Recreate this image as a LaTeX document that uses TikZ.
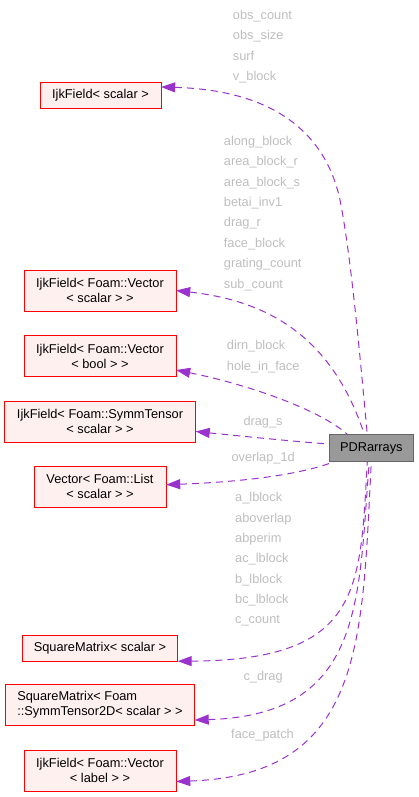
\documentclass[tikz,border=0pt]{standalone}
\usepackage{fontspec}
\setmainfont{Liberation Sans}
\usetikzlibrary{arrows.meta}
\definecolor{edgecol}{HTML}{9A32CD}
\definecolor{clsfill}{HTML}{FFF0F0}
\definecolor{lblgray}{HTML}{BEBEBE}
\tikzset{cls/.style={draw=red, fill=clsfill, minimum height=26pt, inner sep=2pt,
   font=\fontsize{12.8}{15}\selectfont, align=center},
 tall/.style={minimum height=41pt},
 main/.style={draw=black!60, fill=black!40, minimum width=84pt, minimum height=27pt,
   font=\fontsize{12.8}{15}\selectfont},
 dep/.style={draw=edgecol, line width=1pt, dash pattern=on 7pt off 5pt,
   {Triangle[length=14pt,width=10pt]}-},
 lbl/.style={text=lblgray, anchor=west, inner sep=0pt, text height=9pt, text depth=3pt,
   font=\fontsize{12.8}{15}\selectfont},
 }

\begin{document}
\begin{tikzpicture}[x=1pt,y=-1pt]
    \useasboundingbox (0,0) rectangle (418,797);
    % classes
    \node[cls, minimum width=121pt] (sfScalar) at (100.5,95) {IjkField< scalar >};
    \node[cls, tall, minimum width=152pt] (vecScalar) at (100,290.5) {IjkField< Foam::Vector\\< scalar > >};
    \node[cls, tall, minimum width=152pt] (vecBool) at (100,356) {IjkField< Foam::Vector\\< bool > >};
    \node[cls, tall, minimum width=191pt] (symmScalar) at (100,421.5) {IjkField< Foam::SymmTensor\\< scalar > >};
    \node[cls, tall, minimum width=132pt] (listScalar) at (100,486.7) {Vector< Foam::List\\< scalar > >};
    \node[cls, minimum width=155pt] (sqScalar) at (100,648) {SquareMatrix< scalar >};
    \node[cls, tall, minimum width=189pt, align=left] (sqSymm) at (100,705) {SquareMatrix< Foam\\::SymmTensor2D< scalar > >};
    \node[cls, tall, minimum width=152pt] (vecLabel) at (100,770.5) {IjkField< Foam::Vector\\< label > >};
    \node[main] (pdr) at (371.3,448) {PDRarrays};

    % members
    \draw[dep] ([yshift=8pt]sfScalar.east) .. controls (270,90) and (325,130) .. (340,200)
        .. controls (352,260) and (362,380) .. ([xshift=-4pt]pdr.north);
    \draw[dep] (vecScalar.east) .. controls (260,300) and (330,330) .. ([xshift=-7pt]pdr.north);
    \draw[dep] ([yshift=-14pt]vecBool.east) .. controls (250,385) and (320,410) .. ([xshift=-24pt]pdr.north);
    \draw[dep] ([yshift=-10pt]symmScalar.east) .. controls (250,437) and (300,442) .. ([yshift=4pt]pdr.west);
    \draw[dep] ([yshift=2pt]listScalar.east) .. controls (240,482) and (300,475) .. ([xshift=5pt]pdr.south west);
    \draw[dep] (sqScalar.south east) .. controls (362,660) and (360,590) .. ([xshift=-4pt]pdr.south);
    \draw[dep] ([yshift=-15pt]sqSymm.east) .. controls (365,715) and (358,600) .. ([xshift=-2pt]pdr.south);
    \draw[dep] ([yshift=-11pt]vecLabel.east) .. controls (365,775) and (362,640) .. (pdr.south);

    % labels
    \foreach \t [count=\i from 0] in {obs\_count,obs\_size,surf,v\_block}
        \node[lbl] (lblA\i) at (232.7,16.7+20.2*\i) {\t};
    \foreach \t [count=\i from 0] in {along\_block,area\_block\_r,area\_block\_s,betai\_inv1,drag\_r,face\_block,grating\_count,sub\_count}
        \node[lbl] (lblB\i) at (223.7,142.3+20.4*\i) {\t};
    \foreach \t [count=\i from 0] in {dirn\_block,hole\_in\_face}
        \node[lbl] (lblC\i) at (226.7,346.7+20.3*\i) {\t};
    \node[lbl] (lblD) at (243.3,422) {drag\_s};
    \node[lbl] (lblE) at (231.3,458.7) {overlap\_1d};
    \foreach \t [count=\i from 0] in {a\_lblock,aboverlap,abperim,ac\_lblock,b\_lblock,bc\_lblock,c\_count}
        \node[lbl] (lblF\i) at (235,498.7+20.33*\i) {\t};
    \node[lbl] (lblG) at (243.3,677.7) {c\_drag};
    \node[lbl] (lblH) at (231,735.7) {face\_patch};
\end{tikzpicture}
\end{document}
